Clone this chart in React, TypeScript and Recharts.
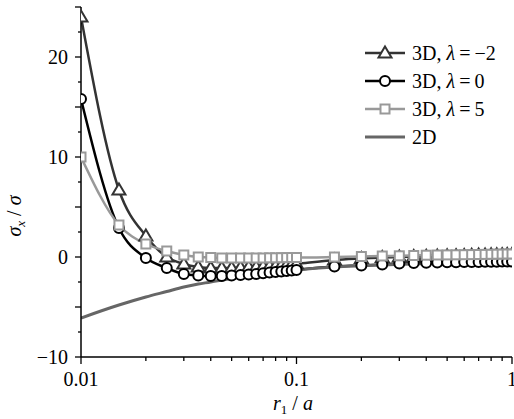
import React from 'react';
import { LineChart, Line, XAxis, YAxis, Legend } from 'recharts';

// r1/a sample positions shared by all curves
const r1 = [
  0.01, 0.015, 0.02, 0.025, 0.03, 0.035, 0.04, 0.045, 0.05, 0.055, 0.06, 0.065, 0.07, 0.075,
  0.08, 0.085, 0.09, 0.095, 0.1, 0.15, 0.2, 0.25, 0.3, 0.35, 0.4, 0.45, 0.5, 0.55, 0.6, 0.65,
  0.7, 0.75, 0.8, 0.85, 0.9, 0.95, 1.0,
];

const lambdaMinus2 = [
  24.0, 6.7, 2.1, 0.0, -0.7, -1.0, -1.1, -1.1, -1.1, -1.05, -1.0, -1.0, -0.95, -0.9,
  -0.9, -0.85, -0.8, -0.75, -0.7, -0.3, -0.15, -0.05, 0.0, 0.05, 0.08, 0.1, 0.12, 0.14, 0.16, 0.18,
  0.2, 0.21, 0.22, 0.23, 0.24, 0.25, 0.26,
];

const lambda0 = [
  15.8, 2.9, -0.1, -1.1, -1.7, -1.85, -1.9, -1.9, -1.85, -1.8, -1.75, -1.7, -1.62, -1.56,
  -1.5, -1.45, -1.4, -1.35, -1.3, -0.95, -0.85, -0.75, -0.65, -0.6, -0.57, -0.55, -0.53, -0.52, -0.5, -0.5,
  -0.49, -0.48, -0.47, -0.47, -0.46, -0.45, -0.45,
];

const lambda5 = [
  10.0, 3.2, 1.3, 0.6, 0.2, 0.0, -0.05, -0.1, -0.1, -0.1, -0.1, -0.1, -0.1, -0.08,
  -0.08, -0.07, -0.06, -0.05, -0.05, 0.0, 0.05, 0.1, 0.12, 0.15, 0.18, 0.2, 0.21, 0.22, 0.23, 0.24,
  0.25, 0.26, 0.27, 0.28, 0.29, 0.3, 0.3,
];

const twoD = [
  -6.1, -4.8, -4.0, -3.45, -3.0, -2.7, -2.5, -2.3, -2.15, -2.0, -1.9, -1.8, -1.7, -1.62,
  -1.55, -1.48, -1.4, -1.35, -1.3, -1.0, -0.88, -0.8, -0.74, -0.69, -0.65, -0.62, -0.59, -0.57, -0.55, -0.53,
  -0.51, -0.5, -0.49, -0.48, -0.47, -0.46, -0.45,
];

const xTicks = [
  0.01, 0.02, 0.03, 0.04, 0.05, 0.06, 0.07, 0.08, 0.09,
  0.1, 0.2, 0.3, 0.4, 0.5, 0.6, 0.7, 0.8, 0.9, 1,
];
const xTickLabels: Record<string, string> = { '0.01': '0.01', '0.1': '0.1', '1': '1' };

const yTicks = [-10, -7.5, -5, -2.5, 0, 2.5, 5, 7.5, 10, 12.5, 15, 17.5, 20, 22.5, 25];
const yTickLabels: Record<string, string> = { '-10': '\u221210', '0': '0', '10': '10', '20': '20' };

const legendLabels = ['\u22122', '0', '5'];

const data = r1.map((r, i) => ({
  r,
  m2: lambdaMinus2[i],
  l0: lambda0[i],
  l5: lambda5[i],
  d2: twoD[i],
}));

const FONT = '"Liberation Serif", "Times New Roman", serif';
const C_M2 = '#333333';
const C_L0 = '#000000';
const C_L5 = '#999999';
const C_2D = '#666666';

const Triangle = ({ cx, cy, color }: { cx: number; cy: number; color: string }) => (
  <path
    d={`M${cx},${cy - 6.5} L${cx + 6.5},${cy + 4.5} L${cx - 6.5},${cy + 4.5} Z`}
    fill="#fff"
    stroke={color}
    strokeWidth={2}
  />
);

const Circle = ({ cx, cy, color }: { cx: number; cy: number; color: string }) => (
  <circle cx={cx} cy={cy} r={5} fill="#fff" stroke={color} strokeWidth={2} />
);

const Square = ({ cx, cy, color }: { cx: number; cy: number; color: string }) => (
  <rect x={cx - 4.5} y={cy - 4.5} width={9} height={9} fill="#fff" stroke={color} strokeWidth={2} />
);

const triDot = (p: any) => <Triangle key={`t-${p.index}`} cx={p.cx} cy={p.cy} color={C_M2} />;
const circDot = (p: any) => <Circle key={`c-${p.index}`} cx={p.cx} cy={p.cy} color={C_L0} />;
const sqDot = (p: any) => <Square key={`s-${p.index}`} cx={p.cx} cy={p.cy} color={C_L5} />;

const XTick = (props: any) => {
  const { x, y, payload } = props;
  const label = xTickLabels[String(payload.value)];
  return (
    <g>
      <line x1={x} y1={y} x2={x} y2={y + (label ? 7 : 4)} stroke="#000" strokeWidth={1.3} />
      {label && (
        <text x={x} y={y + 29} textAnchor="middle" fontFamily={FONT} fontSize={20} fill="#000">
          {label}
        </text>
      )}
    </g>
  );
};

const YTick = (props: any) => {
  const { x, y, payload } = props;
  const label = yTickLabels[String(payload.value)];
  const major = payload.value % 5 === 0;
  return (
    <g>
      <line x1={x} y1={y} x2={x - (major ? 6 : 3)} y2={y} stroke="#000" strokeWidth={1.3} />
      {label && (
        <text x={x - 13} y={y + 7} textAnchor="end" fontFamily={FONT} fontSize={20} fill="#000">
          {label}
        </text>
      )}
    </g>
  );
};

const XLabel = () => (
  <text x={293} y={410} textAnchor="middle" fontFamily={FONT} fontSize={20} fill="#000">
    <tspan fontStyle="italic">r</tspan>
    <tspan fontSize={13} dy={4}>1</tspan>
    <tspan dy={-4}> / </tspan>
    <tspan fontStyle="italic">a</tspan>
  </text>
);

const YLabel = () => (
  <text
    x={21}
    y={216}
    transform="rotate(-90, 21, 216)"
    textAnchor="middle"
    fontFamily={FONT}
    fontSize={20}
    fill="#000"
  >
    <tspan fontStyle="italic">σ</tspan>
    <tspan fontSize={13} dy={4} fontStyle="italic">x</tspan>
    <tspan dy={-4}> / </tspan>
    <tspan fontStyle="italic">σ</tspan>
  </text>
);

const LegendBox = () => {
  const rows = [17, 45, 73, 101];
  return (
    <svg width={156} height={115}>
      {[C_M2, C_L0, C_L5].map((c, i) => (
        <g key={i}>
          <line x1={7} y1={rows[i]} x2={47} y2={rows[i]} stroke={c} strokeWidth={2.5} />
          {i === 0 && <Triangle cx={27} cy={rows[i]} color={c} />}
          {i === 1 && <Circle cx={27} cy={rows[i]} color={c} />}
          {i === 2 && <Square cx={27} cy={rows[i]} color={c} />}
          <text x={54} y={rows[i] + 7} fontFamily={FONT} fontSize={20} fill="#000">
            <tspan>3D, </tspan>
            <tspan fontStyle="italic">λ</tspan>
            <tspan>{'\u2009=\u2009' + legendLabels[i]}</tspan>
          </text>
        </g>
      ))}
      <line x1={7} y1={rows[3]} x2={47} y2={rows[3]} stroke={C_2D} strokeWidth={3} />
      <text x={54} y={rows[3] + 7} fontFamily={FONT} fontSize={20} fill="#000">
        2D
      </text>
    </svg>
  );
};

export default function App() {
  return (
    <div style={{ position: 'absolute', left: 0, top: 0, width: 514, height: 419, background: '#fff' }}>
      <LineChart width={514} height={419} data={data} margin={{ top: 7, right: 2, bottom: 0, left: 0 }}>
        <XAxis
          dataKey="r"
          type="number"
          scale="log"
          domain={[0.01, 1]}
          ticks={xTicks}
          interval={0}
          allowDataOverflow
          height={62}
          tickSize={0}
          tickMargin={0}
          tickLine={false}
          tick={XTick}
          axisLine={{ stroke: '#000', strokeWidth: 1.5 }}
          label={{ content: XLabel }}
        />
        <XAxis
          xAxisId="top"
          orientation="top"
          type="number"
          scale="log"
          domain={[0.01, 1]}
          height={0}
          tick={false}
          tickLine={false}
          axisLine={{ stroke: '#000', strokeWidth: 1.5 }}
        />
        <YAxis
          type="number"
          domain={[-10, 25]}
          ticks={yTicks}
          interval={0}
          allowDataOverflow
          width={81}
          tickSize={0}
          tickMargin={0}
          tickLine={false}
          tick={YTick}
          axisLine={{ stroke: '#000', strokeWidth: 1.5 }}
          label={{ content: YLabel }}
        />
        <YAxis
          yAxisId="right"
          orientation="right"
          domain={[-10, 25]}
          width={0}
          tick={false}
          tickLine={false}
          axisLine={{ stroke: '#000', strokeWidth: 1.5 }}
        />
        <Legend
          layout="vertical"
          align="center"
          verticalAlign="middle"
          content={LegendBox}
          wrapperStyle={{ top: 36, left: 358, width: 156, height: 115 }}
        />
        <Line
          type="monotone"
          dataKey="m2"
          stroke={C_M2}
          strokeWidth={2.5}
          dot={triDot}
          activeDot={false}
          isAnimationActive={false}
        />
        <Line
          type="monotone"
          dataKey="l0"
          stroke={C_L0}
          strokeWidth={2.5}
          dot={circDot}
          activeDot={false}
          isAnimationActive={false}
        />
        <Line
          type="monotone"
          dataKey="l5"
          stroke={C_L5}
          strokeWidth={2.5}
          dot={sqDot}
          activeDot={false}
          isAnimationActive={false}
        />
        <Line
          type="monotone"
          dataKey="d2"
          stroke={C_2D}
          strokeWidth={3}
          dot={false}
          activeDot={false}
          isAnimationActive={false}
        />
      </LineChart>
    </div>
  );
}
